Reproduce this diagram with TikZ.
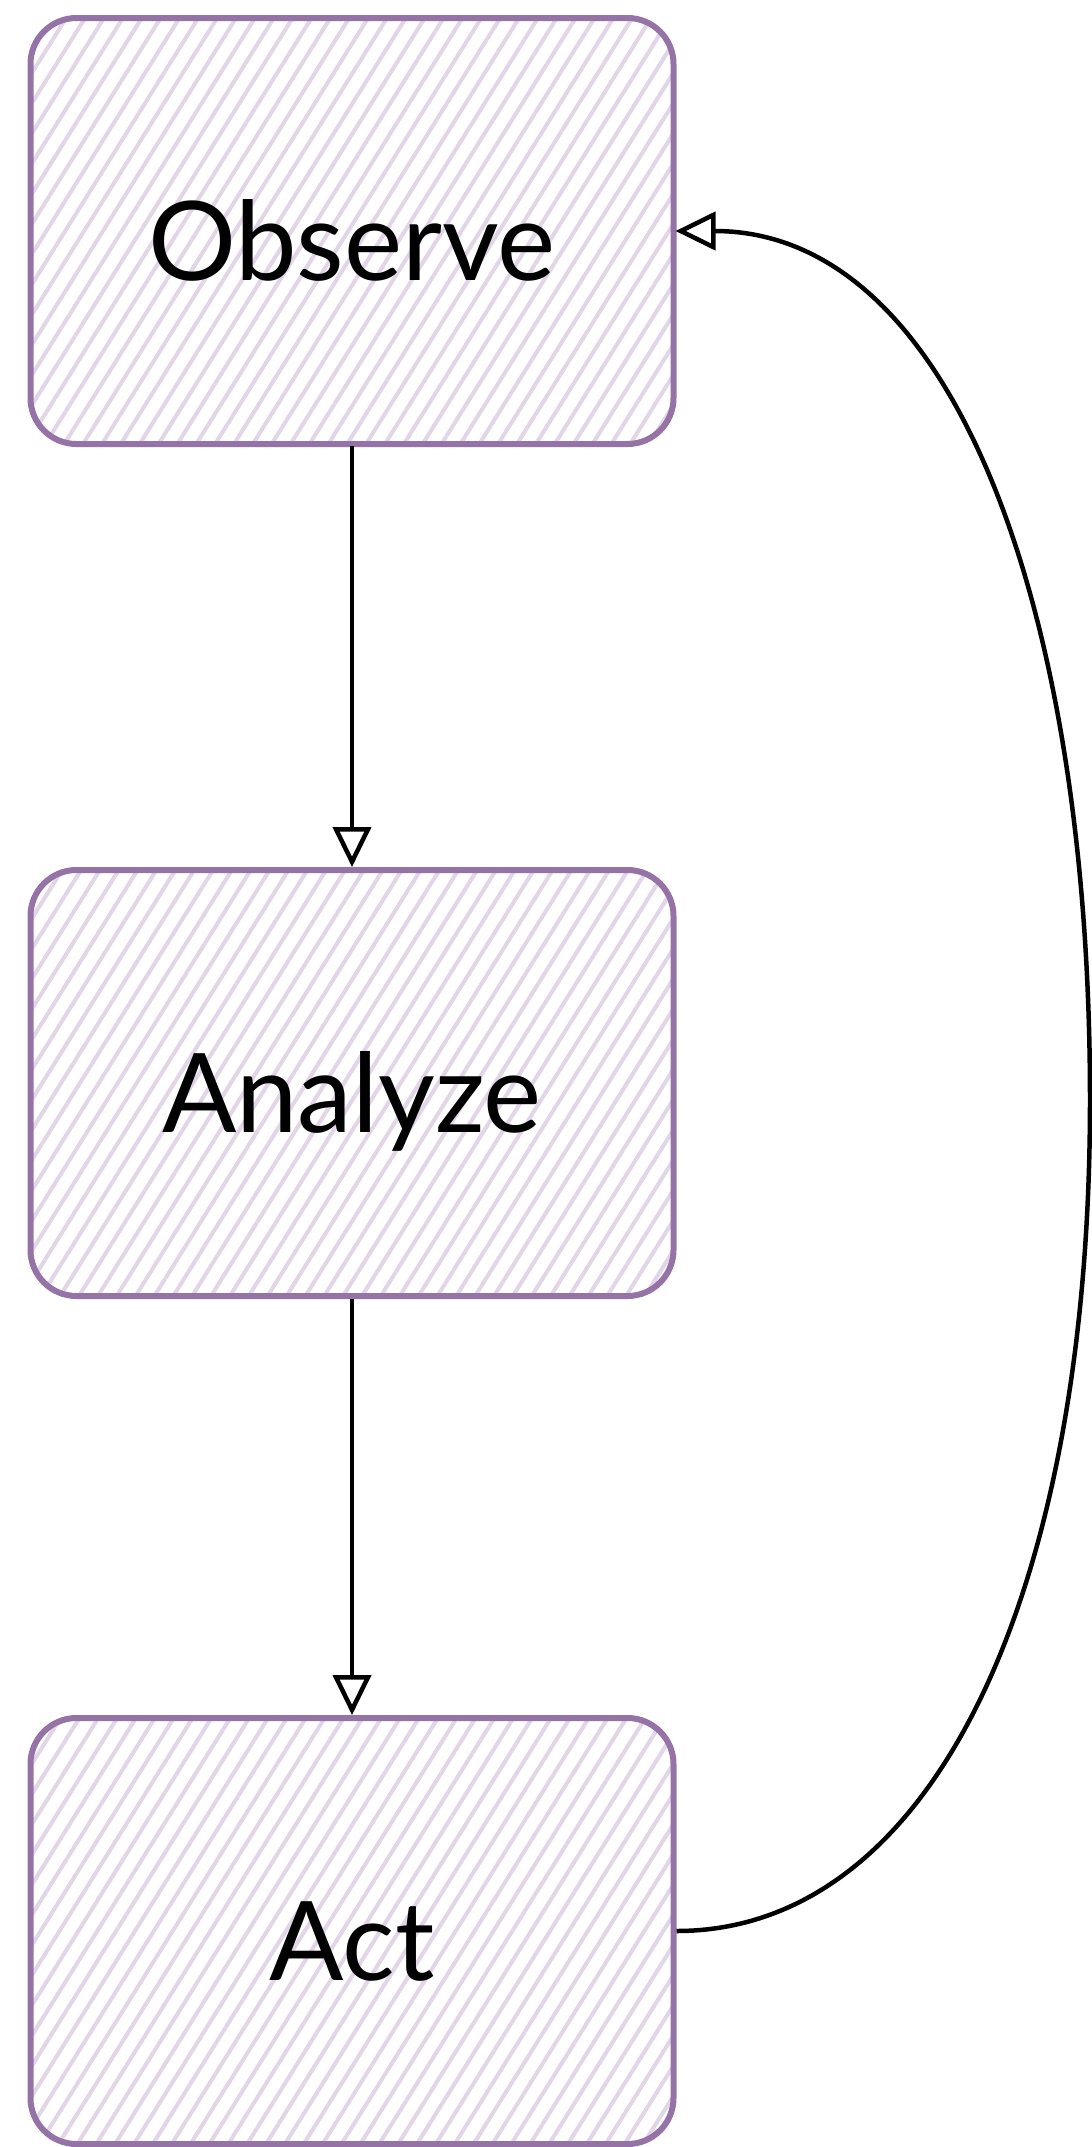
\documentclass[tikz,border=0pt]{standalone}
\usepackage{fontspec}
\setmainfont{Lato}
\usetikzlibrary{arrows.meta,patterns.meta}
\definecolor{boxline}{HTML}{9673A6}
\definecolor{hatch}{HTML}{E1D5E7}
\begin{document}
\begin{tikzpicture}[x=1pt,y=-1pt,
  stage/.style={rectangle, rounded corners=46pt, draw=boxline, line width=6pt,
    minimum width=643pt, minimum height=426pt, inner sep=0pt,
    text height=98pt, text depth=0pt,
    pattern={Lines[angle=58,distance=16pt,line width=4pt]}, pattern color=hatch,
    font=\fontsize{110}{116}\selectfont, text=black},
  flow/.style={draw=black, line width=4.5pt,
    -{Triangle[open, length=40pt, width=38pt, line width=4.5pt]}}]
\useasboundingbox (0,0) rectangle (1092,2147);
\node[stage] (obs) at (352,231) {Observe};
\node[stage] (ana) at (352,1083) {Analyze};
\node[stage] (act) at (352,1931) {Act};
\draw[flow] (obs.south) -- (ana.north);
\draw[flow] (ana.south) -- (act.north);
\draw[flow] (act.east) .. controls (930,1931) and (1090,1600) .. (1090,1100)
  .. controls (1090,600) and (950,231) .. (obs.east);
\end{tikzpicture}
\end{document}
